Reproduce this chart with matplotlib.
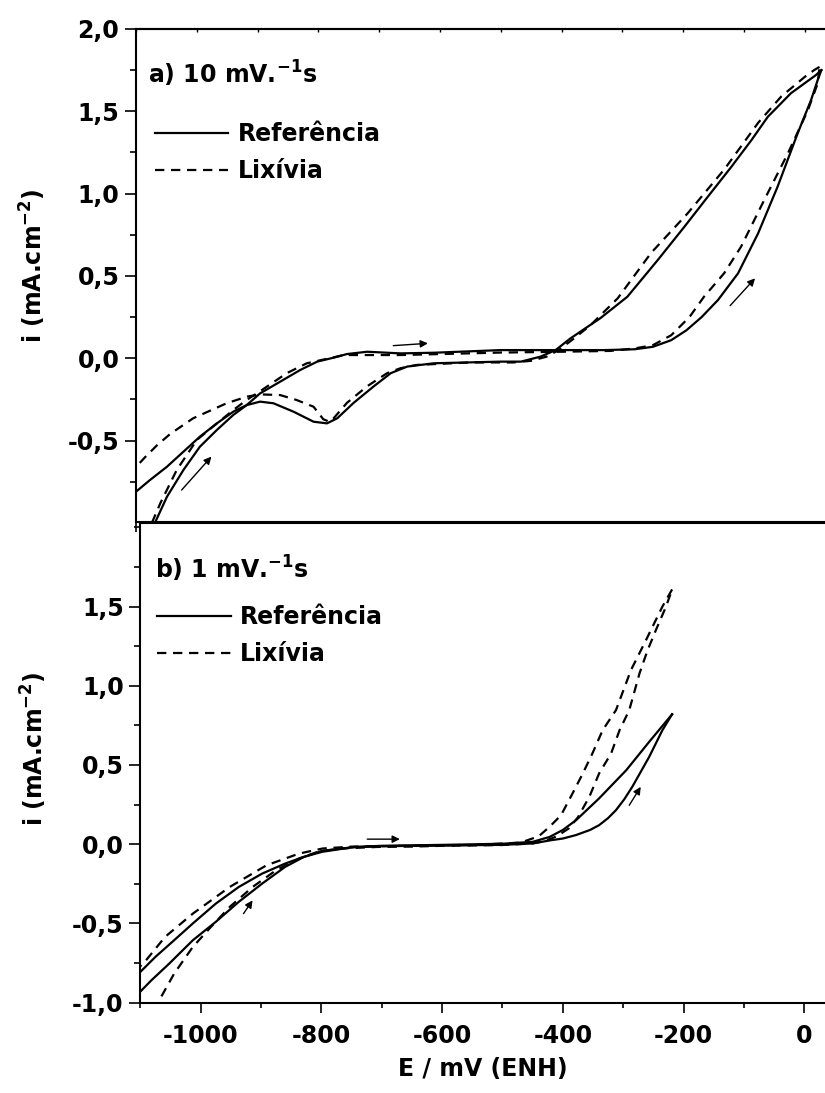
import matplotlib
matplotlib.use("Agg")
import matplotlib.pyplot as plt
from matplotlib.ticker import MultipleLocator, FuncFormatter, FixedLocator

plt.rcParams['font.family'] = ['DejaVu Sans']
plt.rcParams['font.weight'] = 'bold'
plt.rcParams['font.size'] = 17
plt.rcParams['mathtext.fontset'] = 'dejavusans'
plt.rcParams['mathtext.default'] = 'bf'

# ---------------- data: panel a) 10 mV/s ----------------
ref10_fwd_E = [-1069, -1049, -1022, -995, -967, -940, -918, -896, -863, -830, -802, -775, -753,
               -720, -665, -610, -500, -400, -330, -280, -250, -220, -195, -170, -143, -110,
               -77, -45, -12, 10, 21, 27]
ref10_fwd_i = [-1.00, -0.84, -0.678, -0.537, -0.435, -0.344, -0.284, -0.213, -0.142, -0.071,
               -0.02, 0.004, 0.026, 0.04, 0.03, 0.034, 0.05, 0.05, 0.05, 0.055, 0.07, 0.11,
               0.17, 0.25, 0.354, 0.516, 0.759, 1.042, 1.366, 1.568, 1.69, 1.75]
ref10_rev_E = [27, 18, -23, -61, -88, -121, -160, -198, -242, -292, -336, -386, -410, -435,
               -467, -500, -610, -654, -681, -709, -742, -769, -786, -808, -841, -874, -896,
               -918, -940, -967, -995, -1022, -1049, -1077, -1100]
ref10_rev_i = [1.75, 1.72, 1.61, 1.467, 1.325, 1.163, 0.98, 0.80, 0.597, 0.374, 0.245, 0.12,
               0.05, 0.01, -0.02, -0.02, -0.03, -0.05, -0.09, -0.17, -0.27, -0.364, -0.395,
               -0.385, -0.324, -0.273, -0.263, -0.284, -0.324, -0.395, -0.476, -0.567,
               -0.658, -0.739, -0.81]

lix10_fwd_E = [-1074, -1060, -1033, -1000, -967, -940, -918, -896, -852, -819, -758, -665,
               -610, -500, -400, -320, -280, -250, -220, -190, -166, -133, -105, -67, -28, 5,
               21, 24]
lix10_fwd_i = [-1.0, -0.88, -0.678, -0.496, -0.395, -0.314, -0.253, -0.20, -0.09, -0.03, 0.02,
               0.02, 0.025, 0.035, 0.04, 0.045, 0.06, 0.08, 0.14, 0.25, 0.374, 0.516, 0.678,
               0.961, 1.245, 1.508, 1.67, 1.77]
lix10_rev_E = [24, 15, 0, -39, -77, -132, -193, -253, -308, -353, -380, -405, -425, -450, -480,
               -550, -638, -665, -687, -720, -753, -775, -782, -792, -808, -836, -863, -896,
               -918, -951, -1006, -1044, -1066, -1085, -1095]
lix10_rev_i = [1.77, 1.75, 1.71, 1.59, 1.43, 1.15, 0.88, 0.64, 0.364, 0.20, 0.12, 0.05, 0.01,
               -0.015, -0.025, -0.025, -0.04, -0.06, -0.09, -0.17, -0.27, -0.364, -0.385,
               -0.37, -0.294, -0.253, -0.223, -0.219, -0.233, -0.273, -0.364, -0.46, -0.53,
               -0.60, -0.64]

# ---------------- data: panel b) 1 mV/s ----------------
ref1_fwd_E = [-1100, -1082, -1052, -1013, -975, -937, -898, -860, -829, -799, -750, -700, -600,
              -500, -450, -420, -400, -378, -355, -340, -325, -312, -298, -285, -257, -235, -219]
ref1_fwd_i = [-0.93, -0.86, -0.753, -0.606, -0.49, -0.364, -0.248, -0.143, -0.08, -0.042,
              -0.02, -0.012, -0.008, -0.004, 0.005, 0.025, 0.036, 0.058, 0.09, 0.12, 0.165,
              0.215, 0.285, 0.362, 0.551, 0.72, 0.82]
ref1_rev_E = [-219, -257, -295, -340, -378, -400, -422, -450, -500, -600, -700, -745, -799, -829,
              -860, -898, -937, -975, -1013, -1044, -1075, -1100]
ref1_rev_i = [0.82, 0.646, 0.467, 0.289, 0.152, 0.09, 0.046, 0.015, 0.003, -0.004, -0.01,
              -0.017, -0.048, -0.08, -0.122, -0.185, -0.27, -0.375, -0.50, -0.606, -0.711,
              -0.806]

lix1_fwd_E = [-1065, -1044, -1013, -983, -952, -914, -875, -837, -806, -768, -706, -650, -600,
              -500, -450, -430, -410, -390, -375, -356, -340, -320, -306, -290, -273, -260,
              -246, -229, -219]
lix1_fwd_i = [-0.96, -0.817, -0.648, -0.522, -0.396, -0.27, -0.164, -0.09, -0.048, -0.027,
              -0.017, -0.015, -0.01, -0.005, 0.005, 0.02, 0.05, 0.10, 0.17, 0.30, 0.446,
              0.573, 0.72, 0.846, 1.078, 1.22, 1.35, 1.50, 1.608]
lix1_rev_E = [-219, -235, -262, -287, -312, -334, -351, -367, -384, -403, -422, -440, -470,
              -550, -650, -750, -798, -837, -891, -952, -1013, -1059, -1090, -1100]
lix1_rev_i = [1.608, 1.50, 1.29, 1.10, 0.846, 0.72, 0.573, 0.446, 0.32, 0.183, 0.11, 0.05,
              0.01, -0.005, -0.01, -0.015, -0.027, -0.059, -0.133, -0.27, -0.438, -0.585,
              -0.73, -0.77]

# arrows (tail E, tail i, head E, head i)
arrows_a = [(-1025, -0.80, -976, -0.597), (-677, 0.077, -620, 0.091), (-123, 0.32, -82, 0.486)]
arrows_b = [(-929, -0.438, -914, -0.354), (-724, 0.032, -670, 0.032), (-290, 0.246, -271, 0.362)]

legend_labels = ['Referência', 'Lixívia']
ylabel = r'i (mA.cm$^{-2}$)'
xlabel = 'E / mV (ENH)'

W, H = 825, 1093
fig = plt.figure(figsize=(W / 100, H / 100), dpi=100)

def fx(px):
    return px / W

def fy(py):
    return 1 - py / H

ax1 = fig.add_axes([fx(136), fy(522), 1 - fx(136), fy(29) - fy(522)])
ax2 = fig.add_axes([fx(140.3), fy(1002.7), 1 - fx(140.3), fy(523) - fy(1002.7)])

comma = FuncFormatter(lambda v, p: f"{v:.1f}".replace('.', ','))
intfmt = FuncFormatter(lambda v, p: f"{int(round(v))}")

LW = 1.6
DASH = (0, (4.2, 3.0))

def draw(ax, rf_E, rf_i, rr_E, rr_i, lf_E, lf_i, lr_E, lr_i, arrows):
    l1, = ax.plot(rf_E, rf_i, color='black', lw=LW, solid_joinstyle='round')
    ax.plot(rr_E, rr_i, color='black', lw=LW, solid_joinstyle='round')
    l2, = ax.plot(lf_E, lf_i, color='black', lw=LW, linestyle=DASH)
    ax.plot(lr_E, lr_i, color='black', lw=LW, linestyle=DASH)
    for (e0, i0, e1, i1) in arrows:
        ax.annotate('', xy=(e1, i1), xytext=(e0, i0),
                    arrowprops=dict(arrowstyle='-|>', color='black', lw=1.0,
                                    mutation_scale=11, shrinkA=0, shrinkB=0))
    for s in ['left', 'bottom', 'top']:
        ax.spines[s].set_linewidth(1.5)
    ax.spines['right'].set_visible(False)
    ax.xaxis.set_major_locator(MultipleLocator(200))
    ax.xaxis.set_minor_locator(MultipleLocator(100))
    ax.yaxis.set_minor_locator(MultipleLocator(0.25))
    ax.yaxis.set_major_formatter(comma)
    ax.tick_params(axis='y', which='major', direction='out', length=8, width=1.2, pad=4,
                   labelsize=17)
    ax.tick_params(axis='y', which='minor', direction='out', length=4, width=1.2)
    return l1, l2

l1, l2 = draw(ax1, ref10_fwd_E, ref10_fwd_i, ref10_rev_E, ref10_rev_i,
              lix10_fwd_E, lix10_fwd_i, lix10_rev_E, lix10_rev_i, arrows_a)
draw(ax2, ref1_fwd_E, ref1_fwd_i, ref1_rev_E, ref1_rev_i,
     lix1_fwd_E, lix1_fwd_i, lix1_rev_E, lix1_rev_i, arrows_b)

ax1.set_xlim(-1100, 33)
ax1.set_ylim(-0.994, 2.0)
ax1.yaxis.set_major_locator(FixedLocator([-0.5, 0.0, 0.5, 1.0, 1.5, 2.0]))
ax1.tick_params(axis='x', which='both', direction='out', length=7, width=1.2,
                labelbottom=False)
sec = ax1.secondary_xaxis('top')
sec.xaxis.set_major_locator(MultipleLocator(100))
sec.tick_params(axis='x', direction='in', length=2, width=1.0, labeltop=False)
sec.spines['top'].set_linewidth(1.5)

ax2.set_xlim(-1100, 34.3)
ax2.set_ylim(-1.0, 2.027)
ax2.yaxis.set_major_locator(FixedLocator([-1.0, -0.5, 0.0, 0.5, 1.0, 1.5]))
ax2.xaxis.set_major_formatter(intfmt)
ax2.tick_params(axis='x', which='major', direction='out', length=7, width=1.2, pad=8,
                labelsize=17)
ax2.tick_params(axis='x', which='minor', direction='out', length=3.6, width=1.2)

ax1.set_ylabel(ylabel, fontsize=17, fontweight='bold')
ax1.yaxis.set_label_coords(-0.128, 0.52)
ax2.set_ylabel(ylabel, fontsize=17, fontweight='bold')
ax2.yaxis.set_label_coords(-0.134, 0.53)
ax2.set_xlabel(xlabel, fontsize=17, fontweight='bold', labelpad=7)

ax1.text(0.0174, 0.890, 'a) 10 mV.$^{-1}$s', transform=ax1.transAxes, fontsize=17,
         fontweight='bold', va='baseline', ha='left')
ax2.text(0.022, 0.885, 'b) 1 mV.$^{-1}$s', transform=ax2.transAxes, fontsize=17,
         fontweight='bold', va='baseline', ha='left')

for ax, bx, by in [(ax1, 0.028, 0.811), (ax2, 0.025, 0.829)]:
    ax.legend([l1, l2], legend_labels, loc='upper left', bbox_to_anchor=(bx, by),
              frameon=False, handlelength=3.1, handletextpad=0.4, labelspacing=0.55,
              borderpad=0, borderaxespad=0, prop={'size': 17, 'weight': 'bold'})

fig.savefig('out.png', dpi=100)
